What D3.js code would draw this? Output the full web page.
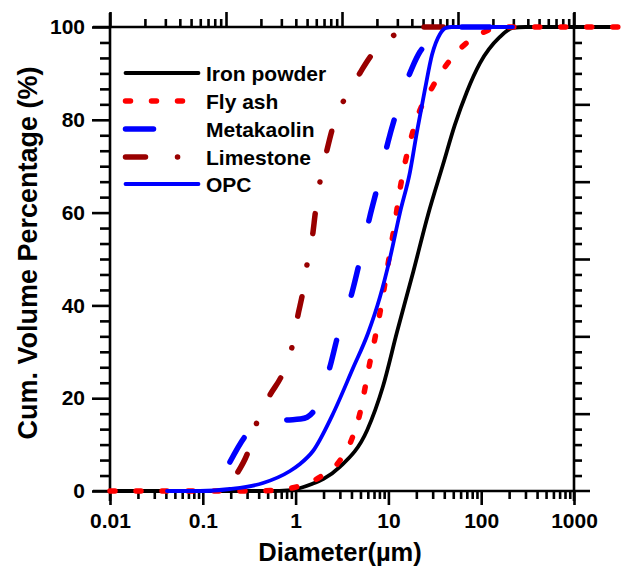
<!DOCTYPE html>
<html><head><meta charset="utf-8">
<script src="https://cdn.jsdelivr.net/npm/d3@7/dist/d3.min.js"></script>
<style>
html,body{margin:0;padding:0;background:#fff;}
svg text{font-family:"Liberation Sans",Arial,sans-serif;font-weight:bold;fill:#000;}
</style></head>
<body><svg id="chart" width="624" height="566"></svg>
<script>
// ---- data (diameter in µm, cumulative volume in %) ----
const seriesNames = ["Iron powder", "Fly ash", "Metakaolin", "Limestone", "OPC"];

const ironD = [0.01, 0.1, 0.5, 0.9, 1.1, 1.5, 2.0, 3.0, 5.9, 8.7, 12.4, 18.5, 26.7, 38.7, 52, 70, 97, 158, 219, 300, 3000];
const ironV = [0, 0, 0, 0.2, 0.6, 1.5, 2.6, 5.2, 13.1, 22.4, 34.3, 47.2, 59.5, 70.3, 78.9, 86, 92.2, 97.8, 99.8, 100, 100];

const flyD = [0.01, 0.3, 0.53, 1.03, 1.83, 2.86, 4.07, 4.94, 5.6, 6.3, 7.18, 8.11, 9.19, 10.4, 11.8, 13.3, 15.1, 17.1, 21.9, 29.5, 40.7, 62.1, 102, 180, 2980];
const flyV = [0, 0, 0.1, 0.9, 3, 6, 11.4, 16.8, 22.2, 27.6, 33, 38.4, 44.8, 51.5, 58, 64.9, 70.7, 75.2, 82.1, 86.9, 91.4, 95.7, 98.7, 100, 100];

const metaD = [0.196, 0.307, 0.446, 0.807, 1.115, 1.33, 1.62, 1.92, 2.34, 2.86, 4.07, 4.94, 6.3, 7.7, 9.9, 12.6, 18.0, 21.8, 29.5, 40.7, 51.8, 220];
const metaV = [6.25, 12.5, 14.4, 15.3, 15.5, 15.9, 17.7, 21.3, 26.7, 33.6, 42.9, 49.8, 59.1, 65.9, 75.2, 82.5, 91.2, 94.6, 97.2, 99.4, 100, 100];

const limeD = [0.239, 0.307, 0.384, 0.530, 0.713, 0.914, 1.06, 1.20, 1.33, 1.54, 1.62, 1.83, 2.18, 2.47, 3.24, 4.94, 6.34, 11.2, 21.9, 38.9];
const limeV = [4.1, 8.4, 14.9, 20.7, 25.0, 31.0, 37.9, 43.0, 48.9, 55.8, 59.5, 66.6, 73.5, 77.8, 83.8, 90.1, 93.5, 98.1, 100, 100];

const opcD = [0.0411, 0.0933, 0.196, 0.446, 0.871, 1.115, 1.54, 2.47, 4.16, 6.03, 8.11, 10.4, 13.3, 17.1, 20.3, 24.8, 29.5, 36.0, 41.8, 48.4, 220];
const opcV = [0, 0, 0.43, 1.72, 4.31, 5.82, 8.62, 16.2, 26.5, 34.0, 41.8, 50.2, 59.9, 68.8, 77.4, 86.6, 94.0, 98.5, 99.8, 100, 100];

const xTickValues = [0.01, 0.1, 1, 10, 100, 1000];
const xTickLabels = ["0.01", "0.1", "1", "10", "100", "1000"];
const yTickValues = [0, 20, 40, 60, 80, 100];
const yTickLabels = ["0", "20", "40", "60", "80", "100"];
const xTitle = "Diameter(\u00b5m)";
const yTitle = "Cum. Volume Percentage (%)";

// ---- layout ----
const L = 110, R = 574, T = 27, B = 491;
const svg = d3.select("#chart");
svg.append("rect").attr("width", 624).attr("height", 566).attr("fill", "#fff");

const x = d3.scaleLog().domain([0.01, 1000]).range([L, R]);
const y = d3.scaleLinear().domain([0, 100]).range([B, T]);
const xTop = d3.scaleLog().domain([0.1, 1000]).range([L, R]);
const yRight = d3.scaleLinear().domain([0, 120]).range([B, T]);

const axisStroke = 2.6;
function styleAxis(g) {
  g.select(".domain").remove();
  g.selectAll(".tick line").attr("stroke", "#000").attr("stroke-width", axisStroke);
  g.selectAll(".tick text").style("font-size", "21px");
}

function logMinors(lo, hi) {
  const out = [];
  for (let e = Math.log10(lo); e < Math.log10(hi); e++) {
    for (let m = 2; m <= 9; m++) out.push(m * Math.pow(10, e));
  }
  return out;
}

// bottom axis
svg.append("g").attr("transform", `translate(0,${B})`)
  .call(d3.axisBottom(x).tickValues(logMinors(0.01, 1000)).tickSize(8).tickFormat(""))
  .call(styleAxis);
svg.append("g").attr("transform", `translate(0,${B})`)
  .call(d3.axisBottom(x).tickValues(xTickValues).tickSize(14).tickPadding(8)
    .tickFormat((d, i) => xTickLabels[i]))
  .call(styleAxis);

// top axis (ticks only)
svg.append("g").attr("transform", `translate(0,${T})`)
  .call(d3.axisTop(xTop).tickValues(logMinors(0.1, 1000)).tickSize(8).tickFormat(""))
  .call(styleAxis);
svg.append("g").attr("transform", `translate(0,${T})`)
  .call(d3.axisTop(xTop).tickValues([0.1, 1, 10, 100, 1000]).tickSize(15).tickFormat(""))
  .call(styleAxis);

// left axis
const leftMinor = d3.range(0, 30).map(i => i * 100 / 30).filter((d, i) => i % 6 !== 0);
svg.append("g").attr("transform", `translate(${L},0)`)
  .call(d3.axisLeft(y).tickValues(leftMinor).tickSize(10).tickFormat(""))
  .call(styleAxis);
svg.append("g").attr("transform", `translate(${L},0)`)
  .call(d3.axisLeft(y).tickValues(yTickValues).tickSize(18).tickPadding(7)
    .tickFormat((d, i) => yTickLabels[i]))
  .call(styleAxis);

// right axis (ticks only)
const rightMinor = d3.range(0, 30).map(i => i * 4).filter((d, i) => i % 5 !== 0);
svg.append("g").attr("transform", `translate(${R},0)`)
  .call(d3.axisRight(yRight).tickValues(rightMinor).tickSize(8).tickFormat(""))
  .call(styleAxis);
svg.append("g").attr("transform", `translate(${R},0)`)
  .call(d3.axisRight(yRight).tickValues([20, 40, 60, 80, 100]).tickSize(16).tickFormat(""))
  .call(styleAxis);

// frame lines (extending past the corners)
const ext = 14;
const frame = svg.append("g").attr("stroke", "#000").attr("stroke-width", axisStroke);
frame.append("line").attr("x1", L - 17).attr("x2", R + 16).attr("y1", B).attr("y2", B);
frame.append("line").attr("x1", L - 17).attr("x2", R + 16).attr("y1", T).attr("y2", T);
frame.append("line").attr("x1", L).attr("x2", L).attr("y1", T - ext).attr("y2", B + ext - 4);
frame.append("line").attr("x1", R).attr("x2", R).attr("y1", T - ext).attr("y2", B + ext - 4);

// ---- series ----
const styles = [
  {d: ironD, v: ironV, color: "#000000", width: 3.8, dash: null},
  {d: flyD, v: flyV, color: "#ff0000", width: 5.5, dash: "5,21"},
  {d: metaD, v: metaV, color: "#0000ff", width: 5.5, dash: "28,48"},
  {d: limeD, v: limeV, color: "#990000", width: 5.5, dash: "20,32,0.1,32"},
  {d: opcD, v: opcV, color: "#0000ff", width: 3.8, dash: null}
];

const line = d3.line().x(p => x(p[0])).y(p => y(p[1])).curve(d3.curveMonotoneX);
const seriesG = svg.append("g");
styles.forEach(s => {
  const pts = s.d.map((d, i) => [d, s.v[i]]);
  seriesG.append("path").datum(pts).attr("d", line)
    .attr("fill", "none").attr("stroke", s.color).attr("stroke-width", s.width)
    .attr("stroke-linecap", "round").attr("stroke-linejoin", "round")
    .attr("stroke-dasharray", s.dash);
});

// ---- legend ----
const legend = svg.append("g");
const rowY = [73, 101, 129, 157, 184];
styles.forEach((s, i) => {
  legend.append("line").attr("x1", 125.5).attr("x2", 198.5).attr("y1", rowY[i]).attr("y2", rowY[i])
    .attr("stroke", s.color).attr("stroke-width", s.width)
    .attr("stroke-linecap", "round").attr("stroke-dasharray", s.dash);
  legend.append("text").attr("x", 206).attr("y", rowY[i] + 7.5)
    .style("font-size", "21px").text(seriesNames[i]);
});

// ---- titles ----
svg.append("text").attr("x", 340).attr("y", 561).attr("text-anchor", "middle")
  .style("font-size", "25.5px").text(xTitle);
svg.append("text").attr("transform", "translate(37,253) rotate(-90)").attr("text-anchor", "middle")
  .style("font-size", "27px").text(yTitle);
</script>
</body></html>
